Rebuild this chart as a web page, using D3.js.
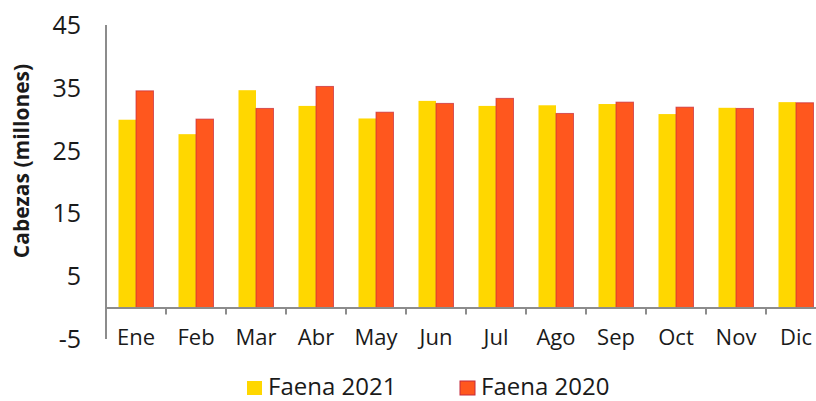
<!DOCTYPE html>
<html>
<head>
<meta charset="utf-8">
<script src="https://cdn.jsdelivr.net/npm/d3@7"></script>
<style>
  body { margin: 0; background: #fff; }
  svg { display: block; font-family: "Open Sans", Lato, sans-serif; }
</style>
</head>
<body>
<div id="chart"></div>
<script>
var months = ["Ene", "Feb", "Mar", "Abr", "May", "Jun", "Jul", "Ago", "Sep", "Oct", "Nov", "Dic"]
var faena2021 = [29.9, 27.6, 34.6, 32.1, 30.1, 32.9, 32.1, 32.2, 32.4, 30.8, 31.8, 32.7]
var faena2020 = [34.5, 30.0, 31.7, 35.2, 31.1, 32.5, 33.3, 30.9, 32.7, 31.9, 31.7, 32.6]
var yTicks = [-5, 5, 15, 25, 35, 45]
var seriesNames = ["Faena 2021", "Faena 2020"]

var width = 816
var height = 401

var colors = ["#FFD700", "#FF571E"]

var svg = d3.select("#chart")
    .append("svg")
    .attr("width", width)
    .attr("height", height)

// x scale runs past the right edge, like in the original picture
var x = d3.scaleBand()
    .domain(months)
    .range([106, 826])

var xInner = d3.scaleBand()
    .domain([0, 1])
    .range([0, 35])

var y = d3.scaleLinear()
    .domain([-5, 45])
    .range([338.9, 24.9])

// y axis: a plain line with labels, no ticks
svg.append("line")
    .attr("x1", 106).attr("x2", 106)
    .attr("y1", y(45)).attr("y2", y(-5))
    .attr("stroke", "#8c8c8c")
    .attr("stroke-width", 2)

svg.selectAll(".ylab")
    .data(yTicks)
    .enter()
    .append("text")
    .attr("x", 81)
    .attr("y", function (d) { return y(d) })
    .attr("dy", "0.36em")
    .attr("text-anchor", "end")
    .style("font-size", "25px")
    .style("fill", "#1a1a1a")
    .text(function (d) { return d })

svg.append("text")
    .attr("transform", "translate(29," + 161 + ") rotate(-90)")
    .attr("text-anchor", "middle")
    .style("font-size", "21px")
    .style("font-weight", "bold")
    .style("fill", "#1a1a1a")
    .text("Cabezas (millones)")

// bars
var groups = svg.selectAll(".month")
    .data(months)
    .enter()
    .append("g")
    .attr("transform", function (d) {
        return "translate(" + (x(d) + (x.bandwidth() - 35) / 2) + ",0)"
    })

groups.append("rect")
    .attr("x", xInner(0))
    .attr("width", xInner.bandwidth())
    .attr("y", function (d, i) { return y(faena2021[i]) })
    .attr("height", function (d, i) { return y(0) - y(faena2021[i]) })
    .attr("fill", colors[0])

groups.append("rect")
    .attr("x", xInner(1))
    .attr("width", xInner.bandwidth())
    .attr("y", function (d, i) { return y(faena2020[i]) })
    .attr("height", function (d, i) { return y(0) - y(faena2020[i]) })
    .attr("fill", colors[1])
    .attr("stroke", "#c42a3c")
    .attr("stroke-opacity", 0.7)
    .attr("stroke-width", 1)

// x axis at zero
var xAxis = svg.append("g")
    .attr("transform", "translate(0," + y(0) + ")")
    .call(d3.axisBottom(x).tickSize(0).tickPadding(0))

xAxis.select(".domain")
    .attr("stroke", "#8c8c8c")
    .attr("stroke-width", 2)

xAxis.selectAll(".tick text")
    .attr("y", 37)
    .attr("dy", 0)
    .style("font-size", "22px")
    .style("font-family", "'Open Sans', Lato, sans-serif")
    .style("fill", "#1a1a1a")

// separators between the categories
xAxis.selectAll(".sep")
    .data(months.slice(1))
    .enter()
    .append("line")
    .attr("x1", function (d) { return x(d) })
    .attr("x2", function (d) { return x(d) })
    .attr("y1", 0)
    .attr("y2", 7)
    .attr("stroke", "#8c8c8c")
    .attr("stroke-width", 2)

// legend
var legendX = [247, 460]
var legend = svg.selectAll(".legend")
    .data(seriesNames)
    .enter()
    .append("g")
    .attr("transform", function (d, i) { return "translate(" + legendX[i] + ",381)" })

legend.append("rect")
    .attr("width", 15)
    .attr("height", 14)
    .attr("fill", function (d, i) { return colors[i] })
    .attr("stroke", function (d, i) { return i == 1 ? "#c42a3c" : "none" })
    .attr("stroke-width", 1)

legend.append("text")
    .attr("x", 21)
    .attr("y", 14)
    .style("font-size", "24px")
    .style("fill", "#1a1a1a")
    .text(function (d) { return d })
</script>
</body>
</html>
